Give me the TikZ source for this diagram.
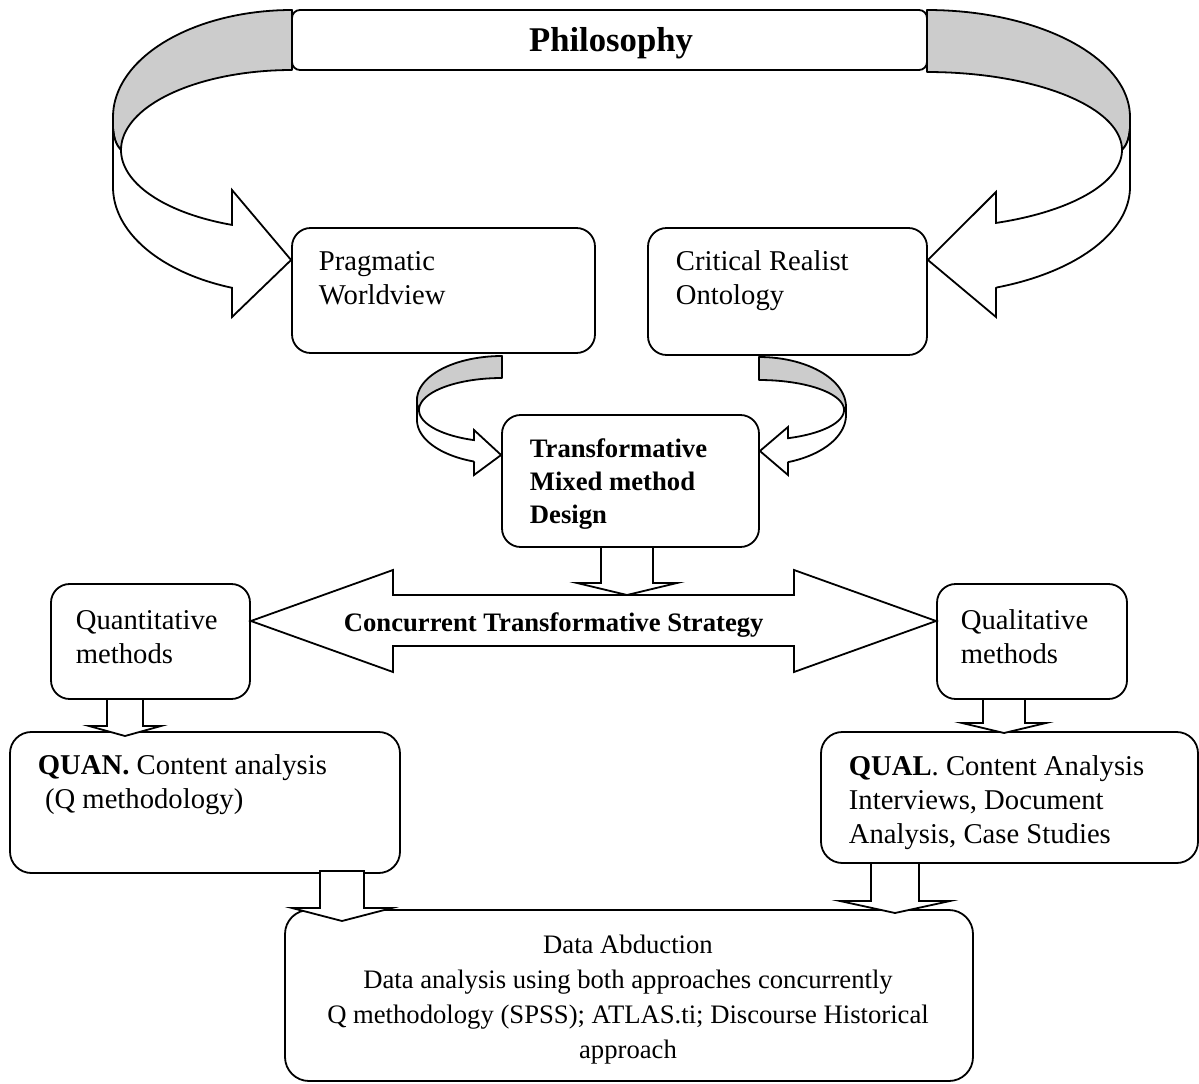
\documentclass[tikz,border=0pt]{standalone}
\usepackage{fontspec}
\setmainfont{Liberation Serif}
\usetikzlibrary{fit}
\newcommand\blockdown[6]{% cx, ytop, ybase, ytip, halfshaft, halfhead
  \draw[blk] ({#1-#5},#2) -- ({#1-#5},#3) -- ({#1-#6},#3) -- (#1,#4) -- ({#1+#6},#3) -- ({#1+#5},#3) -- ({#1+#5},#2) -- cycle;}
\begin{document}
\begin{tikzpicture}[x=0.75pt,y=-0.75pt, line width=1.35pt, line join=miter,
  box/.style={draw, rounded corners=14pt, inner sep=0pt},
  blk/.style={draw, fill=white, line join=miter},
  band/.style={draw, fill=black!20, line join=round},
  face/.style={draw, fill=white, line join=miter},
  txt/.style={inner sep=0pt, font=\fontsize{21.5}{25.5}\selectfont, align=left},
  btxt/.style={inner sep=0pt, font=\fontsize{20}{24.75}\selectfont\bfseries, align=left},
]
\useasboundingbox (0,0) rectangle (1199,1084);

% boxes
\node[box, rounded corners=6pt, fit={(292,10) (927,70)}] (phil) {};
\node[box, fit={(292,228) (595,353)}] (prag) {};
\node[box, fit={(648,228) (927,355)}] (crit) {};
\node[box, fit={(502,415) (759,547)}] (tmm) {};
\node[box, fit={(51,584) (250,699)}] (quant) {};
\node[box, fit={(937,584) (1127,699)}] (qual) {};
\node[box, rounded corners=16pt, fit={(10,732) (400,873)}] (quan) {};
\node[box, rounded corners=16pt, fit={(821,732) (1198,863)}] (qualc) {};
\node[box, rounded corners=18pt, fit={(285,910) (973,1081)}] (data) {};

% big left curved arrow
\draw[band] plot[domain=90:180,samples=40,variable=\t] ({292+179*cos(\t)},{117-107*sin(\t)})
  -- (113,128) .. controls (114,140) and (117,146) .. (121,150)
  -- plot[domain=180:90,samples=40,variable=\t] ({292+171*cos(\t)},{150-80*sin(\t)}) -- cycle;
\draw[face] plot[domain=180:249.45,samples=40,variable=\t] ({292+171*cos(\t)},{150-80*sin(\t)})
  -- (232,190) -- (prag.west |- 0,260) -- (232,317) -- (232,288)
  -- plot[domain=250.4:180,samples=40,variable=\t] ({292+179*cos(\t)},{187-107*sin(\t)})
  -- (113,128) .. controls (114,140) and (117,146) .. (121,150) -- cycle;

% big right curved arrow
\draw[band] plot[domain=90:0,samples=40,variable=\t] ({927+203*cos(\t)},{117-107*sin(\t)})
  -- (1130,128) .. controls (1129,140) and (1126,146) .. (1122,150)
  -- plot[domain=0:90,samples=40,variable=\t] ({927+195*cos(\t)},{150-78*sin(\t)}) -- cycle;
\draw[face] plot[domain=360:290.72,samples=40,variable=\t] ({927+195*cos(\t)},{150-78*sin(\t)})
  -- (996,192) -- (crit.east |- 0,260) -- (996,317) -- (996,288)
  -- plot[domain=290.13:360,samples=40,variable=\t] ({927+203*cos(\t)},{187-107*sin(\t)})
  -- (1130,128) .. controls (1129,140) and (1126,146) .. (1122,150) -- cycle;

% small left curved arrow
\draw[band] plot[domain=90:180,samples=30,variable=\t] ({502+85*cos(\t)},{400-44*sin(\t)})
  -- (417,404) .. controls (417.5,407) and (418,409) .. (419,410)
  -- plot[domain=180:90,samples=30,variable=\t] ({502+83*cos(\t)},{410-32*sin(\t)}) -- cycle;
\draw[face] plot[domain=180:250.29,samples=30,variable=\t] ({502+83*cos(\t)},{410-32*sin(\t)})
  -- (474,430) -- (tmm.west |- 0,455) -- (474,475) -- (474,461.5)
  -- plot[domain=250.77:180,samples=30,variable=\t] ({502+85*cos(\t)},{420-44*sin(\t)})
  -- (417,404) .. controls (417.5,407) and (418,409) .. (419,410) -- cycle;

% small right curved arrow
\draw[band] plot[domain=90:0,samples=30,variable=\t] ({759+87*cos(\t)},{407-50*sin(\t)})
  -- (844,410)
  -- plot[domain=0:90,samples=30,variable=\t] ({759+85*cos(\t)},{410-30*sin(\t)}) -- cycle;
\draw[face] plot[domain=360:289.95,samples=30,variable=\t] ({759+85*cos(\t)},{410-30*sin(\t)})
  -- (788,427) -- (tmm.east |- 0,451) -- (788,475) -- (788,462)
  -- plot[domain=289.47:360,samples=30,variable=\t] ({759+87*cos(\t)},{415-50*sin(\t)})
  -- (846,407) -- (844,410) -- cycle;

% double block arrow
\draw[blk] (quant.east |- 0,621) -- (393,570) -- (393,595) -- (794,595) -- (794,570)
  -- (qual.west |- 0,621) -- (794,672) -- (794,646) -- (393,646) -- (393,672) -- cycle;

% down block arrows
\blockdown{627}{547}{583}{595}{26}{50}
\blockdown{125}{699}{726}{736}{18}{36}
\blockdown{1004}{699}{723}{733}{21}{42}
\blockdown{342}{871}{908}{921}{22}{50}
\blockdown{895}{863}{901}{913}{24}{55}

% texts (base anchor = baseline of the last line)
\node[btxt, anchor=base, font=\fontsize{26}{30}\selectfont\bfseries] (philt) at (611,52) {Philosophy};
\node[txt, anchor=base west] (pragt) at (318,305) {Pragmatic\\Worldview};
\node[txt, anchor=base west] (critt) at (675,305) {Critical Realist\\Ontology};
\node[btxt, anchor=base west] (tmmt) at (529,523) {Transformative\\Mixed method\\Design};
\node[btxt, anchor=base west] (strat) at (343,631) {Concurrent Transformative Strategy};
\node[txt, anchor=base west] (quantt) at (75,663) {Quantitative\\methods};
\node[txt, anchor=base west] (qualt) at (960,663) {Qualitative\\methods};
\node[txt, anchor=base west] (quant2) at (37,808) {\textbf{QUAN.} Content analysis\\\hspace*{0.25em}(Q methodology)};
\node[txt, anchor=base west] (qualc2) at (848,843) {\textbf{QUAL}. Content Analysis\\Interviews, Document\\Analysis, Case Studies};
\node[inner sep=0pt, align=center, anchor=base, font=\fontsize{20}{26.25}\selectfont] (datat) at (628,1058) {Data Abduction\\Data analysis using both approaches concurrently\\Q methodology (SPSS); ATLAS.ti; Discourse Historical\\approach};
\end{tikzpicture}
\end{document}
